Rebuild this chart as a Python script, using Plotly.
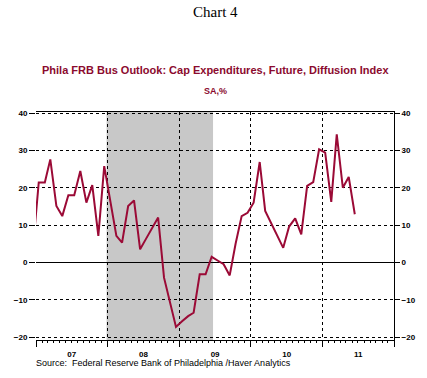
import plotly.graph_objects as go

months = ["2006-12-15"] + [f"{y}-{m:02d}-15" for y in range(2007, 2012) for m in range(1, 13)]
values = [
    3.0,
    # 2007
    21.4, 21.4, 27.6, 15.1, 12.4, 18.0, 18.0, 24.5, 16.0, 20.7, 7.1, 25.8,
    # 2008
    16.5, 7.1, 5.3, 15.1, 16.6, 3.5, 6.3, 9.2, 12.0, -4.1, -10.4, -17.3,
    # 2009
    -15.8, -14.4, -13.5, -3.2, -3.2, 1.5, 0.5, -0.5, -3.5, 5.0, 12.4, 13.3,
    # 2010
    16.0, 26.9, 13.8, 10.6, 7.2, 3.9, 9.6, 11.8, 7.5, 20.5, 21.5, 30.3,
    # 2011
    29.4, 16.2, 34.3, 20.0, 22.9, 12.9,
]
months = months[:len(values)]

recession_start = "2007-12-27"
recession_end = "2009-06-22"

line_color = "#9B0A36"
title_color = "#8B0A2E"

fig = go.Figure()
fig.add_trace(go.Scatter(x=months, y=values, mode="lines",
                         line=dict(color=line_color, width=2),
                         hoverinfo="skip", showlegend=False))
fig.add_trace(go.Scatter(x=months, y=values, mode="lines", yaxis="y2",
                         line=dict(color="rgba(0,0,0,0)", width=0),
                         hoverinfo="skip", showlegend=False))

fig.add_vrect(x0=recession_start, x1=recession_end, fillcolor="#C8C8C8",
              opacity=1, line_width=0, layer="below")

FONT = "Arial, Liberation Sans, sans-serif"
yticks = [-20, -10, 0, 10, 20, 30, 40]
yrange = [-20.8, 40.3]
dash = "3px,3px"

fig.update_layout(
    width=427, height=378,
    margin=dict(l=36, r=33, t=112, b=38),
    paper_bgcolor="white", plot_bgcolor="white",
    xaxis=dict(
        type="date", range=["2007-01-01", "2012-01-01"],
        dtick="M12", tick0="2007-01-01", tickformat="%y",
        ticklabelmode="period",
        ticks="outside", ticklen=6, tickcolor="black", tickwidth=1,
        showgrid=True, gridcolor="black", griddash=dash, gridwidth=1,
        showline=True, linecolor="black", linewidth=1, mirror=True,
        zeroline=False,
        tickfont=dict(family=FONT, size=8, color="black", weight="bold"),
        minor=dict(dtick="M1", ticks="outside", ticklen=2, tickcolor="black", showgrid=False),
    ),
    yaxis=dict(
        range=yrange, tickvals=yticks, ticks="outside", ticklen=6, tickcolor="black",
        showgrid=True, gridcolor="black", griddash=dash, gridwidth=1,
        zeroline=True, zerolinecolor="black", zerolinewidth=1.2,
        showline=False,
        tickfont=dict(family=FONT, size=8, color="black", weight="bold"),
    ),
    yaxis2=dict(
        range=yrange, tickvals=yticks, overlaying="y", side="right",
        ticks="outside", ticklen=5, tickcolor="black",
        showgrid=False, zeroline=False,
        showline=True, linecolor="black", linewidth=1,
        tickfont=dict(family=FONT, size=8, color="black", weight="bold"),
    ),
    annotations=[
        dict(text="Chart 4", xref="paper", yref="paper", x=0.5, y=1, yshift=100,
             xanchor="center", yanchor="middle", showarrow=False,
             font=dict(family="Liberation Serif, Times New Roman, serif", size=15, color="black")),
        dict(text="<b>Phila FRB Bus Outlook: Cap Expenditures, Future, Diffusion Index</b>",
             xref="paper", yref="paper", x=0.5, y=1, yshift=42,
             xanchor="center", yanchor="middle", showarrow=False,
             font=dict(family=FONT, size=11, color=title_color)),
        dict(text="<b>SA,%</b>", xref="paper", yref="paper", x=0.5, y=1, yshift=21,
             xanchor="center", yanchor="middle", showarrow=False,
             font=dict(family=FONT, size=9, color=title_color)),
        dict(text="Source:  Federal Reserve Bank of Philadelphia /Haver Analytics",
             xref="paper", yref="paper", x=0, y=0, yshift=-23, xshift=-2,
             xanchor="left", yanchor="middle", showarrow=False,
             font=dict(family=FONT, size=9, color="black")),
    ],
)

fig.write_html("out.html", config={"displayModeBar": False},
               post_script="document.body.style.margin='0px';")
